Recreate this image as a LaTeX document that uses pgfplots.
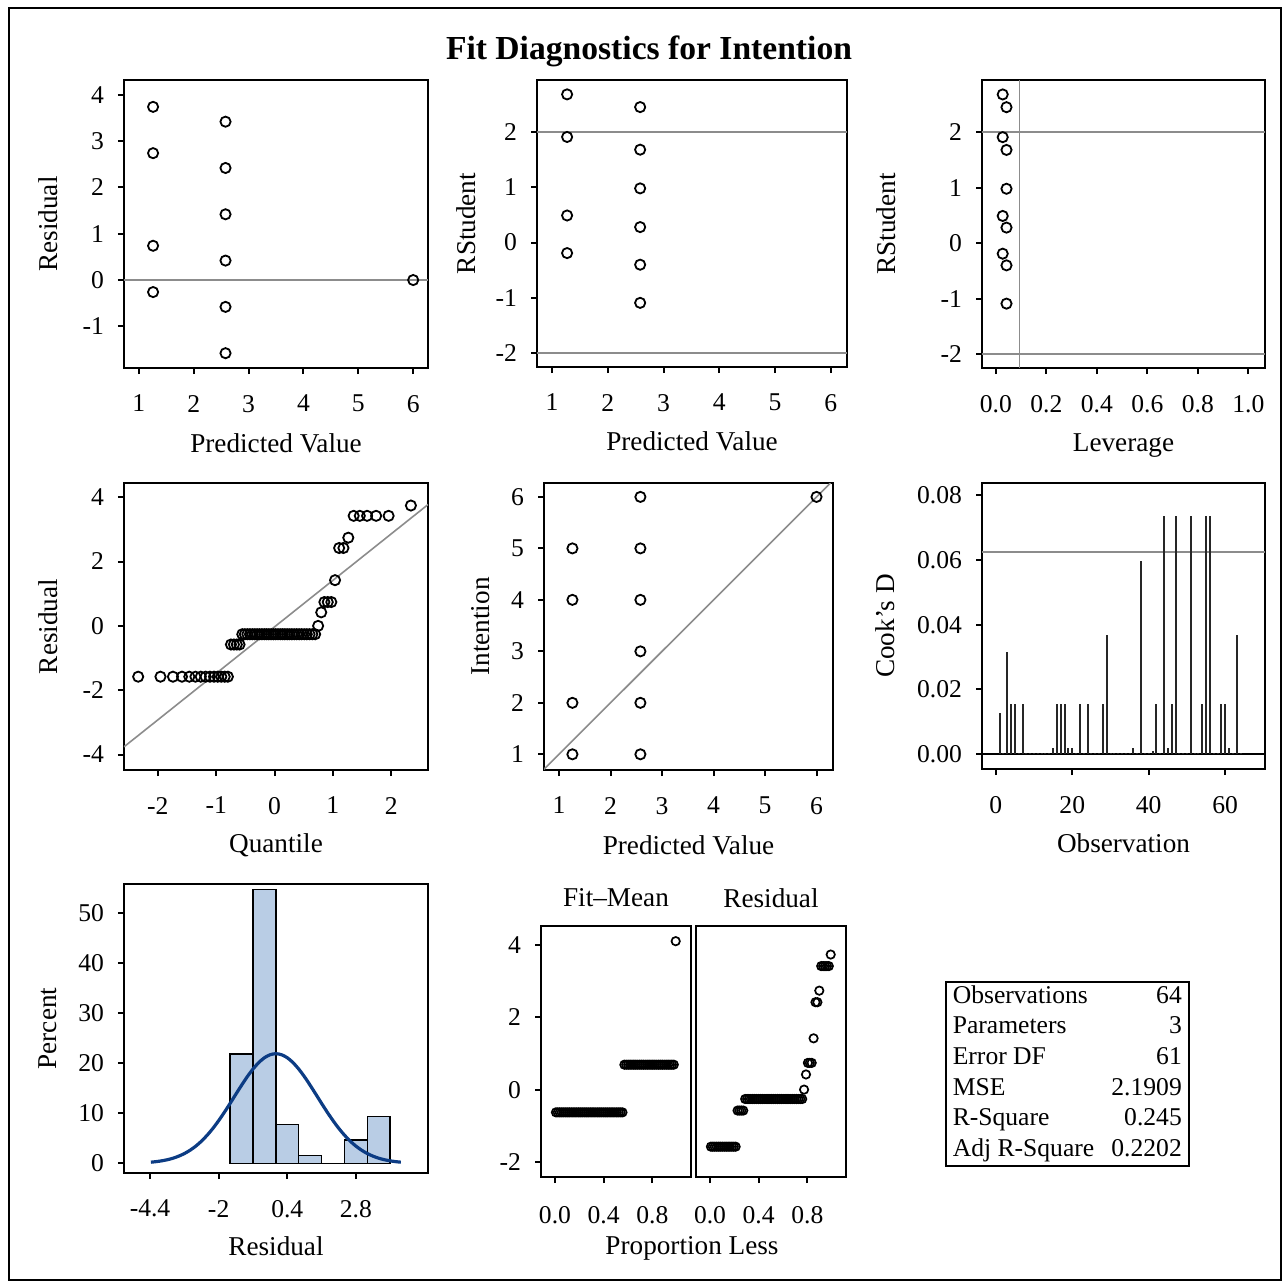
\documentclass[border=0pt]{standalone}
\usepackage{fontspec}
\setmainfont{Liberation Serif}
\usepackage{pgfplots}
\pgfplotsset{compat=1.18}
\definecolor{barfill}{RGB}{185,205,229}
\definecolor{curveblue}{RGB}{12,60,132}
\definecolor{refgray}{RGB}{140,140,140}
\newcommand{\tickfont}{\fontsize{12.8}{15}\selectfont}
\newcommand{\labfont}{\fontsize{13.6}{16}\selectfont}
\pgfplotsset{
  diag/.style={
    scale only axis, anchor=south west,
    axis line style={line width=1pt},
    major tick style={line width=1pt, black},
    major tick length=3pt,
    tick align=outside, tick pos=left,
    tick label style={font=\tickfont},
    xticklabel style={yshift=-7pt},
    yticklabel style={xshift=-3.5pt},
    label style={font=\labfont},
    /pgf/number format/assume math mode=true,
    scaled ticks=false,
  },
  circ/.style={only marks, mark=o, mark size=2.55pt, mark options={line width=0.9pt, black}},
  circs/.style={only marks, mark=o, mark size=2.1pt, mark options={line width=0.85pt, black}},
  ref/.style={refgray, line width=0.8pt, forget plot},
}
\begin{document}
\begin{tikzpicture}
\path (0pt,0pt) rectangle (642.5pt,-642pt);
\draw[line width=1pt] (4.5pt,-4pt) rectangle (640.5pt,-640pt);
\node[font=\bfseries\fontsize{16.8}{20}\selectfont] at (324.5pt,-25.5pt) {Fit Diagnostics for Intention};

% residual vs predicted
\begin{axis}[diag, at={(62pt,-184pt)}, width=152pt, height=144pt,
  xmin=0.73, xmax=6.27, ymin=-1.9, ymax=4.32,
  xtick={1,2,3,4,5,6}, ytick={-1,0,1,2,3,4},
  xlabel={Predicted Value}, ylabel={Residual},
  xlabel style={at={(axis description cs:0.5,-0.26)}, anchor=center},
  ylabel style={at={(axis description cs:-0.25,0.5)}, anchor=center}]
\addplot[ref] coordinates {(0.73,0) (6.27,0)};
\addplot[circ] coordinates {(1.26,3.74)(1.26,2.74)(1.26,0.74)(1.26,-0.26)
 (2.58,3.42)(2.58,2.42)(2.58,1.42)(2.58,0.42)(2.58,-0.58)(2.58,-1.58)(6,0)};
\end{axis}

% rstudent vs predicted
\begin{axis}[diag, at={(268.5pt,-183.5pt)}, width=155pt, height=143.5pt,
  xmin=0.73, xmax=6.29, ymin=-2.25, ymax=2.94,
  xtick={1,2,3,4,5,6}, ytick={-2,-1,0,1,2},
  xlabel={Predicted Value}, ylabel={RStudent},
  xlabel style={at={(axis description cs:0.5,-0.26)}, anchor=center},
  ylabel style={at={(axis description cs:-0.229,0.5)}, anchor=center}]
\addplot[ref] coordinates {(0.73,2) (6.29,2)};
\addplot[ref] coordinates {(0.73,-2) (6.29,-2)};
\addplot[circ] coordinates {(1.27,2.68)(1.27,1.91)(1.27,0.49)(1.27,-0.19)
 (2.58,2.45)(2.58,1.68)(2.58,0.98)(2.58,0.28)(2.58,-0.40)(2.58,-1.09)};
\end{axis}

% rstudent vs leverage
\begin{axis}[diag, at={(491pt,-184pt)}, width=141.5pt, height=144pt,
  xmin=-0.055, xmax=1.066, ymin=-2.25, ymax=2.94,
  xtick={0,0.2,0.4,0.6,0.8,1}, xticklabels={0.0,0.2,0.4,0.6,0.8,1.0},
  ytick={-2,-1,0,1,2},
  xlabel={Leverage}, ylabel={RStudent},
  xlabel style={at={(axis description cs:0.5,-0.26)}, anchor=center, yshift=-1.5pt},
  ylabel style={at={(axis description cs:-0.339,0.5)}, anchor=center}]
\addplot[ref] coordinates {(-0.055,2) (1.066,2)};
\addplot[ref] coordinates {(-0.055,-2) (1.066,-2)};
\addplot[ref] coordinates {(0.09375,-2.25) (0.09375,2.94)};
\addplot[circ] coordinates {(0.027,2.68)(0.027,1.91)(0.027,0.49)(0.027,-0.19)
 (0.042,2.45)(0.042,1.68)(0.042,0.98)(0.042,0.28)(0.042,-0.40)(0.042,-1.09)};
\end{axis}

% QQ plot
\begin{axis}[diag, at={(62pt,-385pt)}, width=152pt, height=143.5pt,
  xmin=-2.58, xmax=2.63, ymin=-4.48, ymax=4.44,
  xtick={-2,-1,0,1,2}, ytick={-4,-2,0,2,4},
  xlabel={Quantile}, ylabel={Residual},
  xlabel style={at={(axis description cs:0.5,-0.261)}, anchor=center},
  ylabel style={at={(axis description cs:-0.25,0.5)}, anchor=center}]
\addplot[ref] coordinates {(-2.58,-3.76) (2.63,3.77)};
\addplot[circ] coordinates {
 (-2.337,-1.58)(-1.955,-1.58)(-1.741,-1.58)(-1.586,-1.58)(-1.461,-1.58)(-1.356,-1.58)(-1.264,-1.58)
 (-1.181,-1.58)(-1.107,-1.58)(-1.037,-1.58)(-0.973,-1.58)(-0.912,-1.58)(-0.854,-1.58)(-0.800,-1.58)
 (-0.747,-0.58)(-0.696,-0.58)(-0.647,-0.58)(-0.600,-0.58)
 (-0.553,-0.26)(-0.509,-0.26)(-0.465,-0.26)(-0.422,-0.26)(-0.380,-0.26)(-0.338,-0.26)(-0.297,-0.26)
 (-0.256,-0.26)(-0.216,-0.26)(-0.176,-0.26)(-0.137,-0.26)(-0.098,-0.26)(-0.059,-0.26)(-0.020,-0.26)
 (0.020,-0.26)(0.059,-0.26)(0.098,-0.26)(0.137,-0.26)(0.176,-0.26)(0.216,-0.26)(0.256,-0.26)
 (0.297,-0.26)(0.338,-0.26)(0.380,-0.26)(0.422,-0.26)(0.465,-0.26)(0.509,-0.26)(0.553,-0.26)
 (0.600,-0.26)(0.647,-0.26)(0.696,-0.26)
 (0.747,0)(0.800,0.42)(0.854,0.74)(0.912,0.74)(0.973,0.74)(1.037,1.42)(1.107,2.42)(1.181,2.42)
 (1.264,2.74)(1.356,3.42)(1.461,3.42)(1.586,3.42)(1.741,3.42)(1.955,3.42)(2.337,3.74)};
\end{axis}

% observed vs predicted
\begin{axis}[diag, at={(272pt,-385pt)}, width=144.5pt, height=143.5pt,
  xmin=0.708, xmax=6.32, ymin=0.695, ymax=6.27,
  xtick={1,2,3,4,5,6}, ytick={1,2,3,4,5,6},
  xlabel={Predicted Value}, ylabel={Intention},
  xlabel style={at={(axis description cs:0.5,-0.261)}, anchor=center},
  ylabel style={at={(axis description cs:-0.218,0.5)}, anchor=center}]
\addplot[ref] coordinates {(0.708,0.708) (6.27,6.27)};
\addplot[circ] coordinates {(1.26,5)(1.26,4)(1.26,2)(1.26,1)
 (2.58,6)(2.58,5)(2.58,4)(2.58,3)(2.58,2)(2.58,1)(6,6)};
\end{axis}

% Cook's D
\begin{axis}[diag, at={(491pt,-384.5pt)}, width=141.5pt, height=143pt,
  xmin=-3.6, xmax=70.4, ymin=-0.0046, ymax=0.0838,
  xtick={0,20,40,60}, ytick={0,0.02,0.04,0.06,0.08},
  yticklabels={0.00,0.02,0.04,0.06,0.08},
  xlabel={Observation}, ylabel={Cook's D},
  xlabel style={at={(axis description cs:0.5,-0.261)}, anchor=center},
  ylabel style={at={(axis description cs:-0.343,0.5)}, anchor=center}]
\addplot[ref] coordinates {(-3.6,0.0625) (70.4,0.0625)};
\addplot[black, line width=1pt, forget plot] coordinates {(-3.6,0) (70.4,0)};
\addplot[ycomb, black!85, line width=1pt, mark=none] coordinates {
 (1,0.0126)(2,0.0003)(3,0.0317)(4,0.0155)(5,0.0155)(6,0.0003)(7,0.0155)(8,0.0003)
 (9,0.0003)(10,0.0003)(11,0.0003)(12,0.0003)(13,0.0003)(14,0.0003)(15,0.0019)(16,0.0155)
 (17,0.0155)(18,0.0155)(19,0.0019)(20,0.0019)(21,0.0003)(22,0.0155)(23,0.0003)(24,0.0155)
 (25,0.0003)(26,0.0003)(27,0.0003)(28,0.0155)(29,0.0367)(30,0.0003)(31,0.0003)(32,0.0003)
 (33,0.0003)(34,0.0003)(35,0.0003)(36,0.0019)(37,0.0003)(38,0.0598)(39,0.0003)(40,0.0003)
 (41,0.0009)(42,0.0155)(43,0.0003)(44,0.0735)(45,0.0019)(46,0.0155)(47,0.0735)(48,0.0003)
 (49,0.0003)(50,0.0003)(51,0.0735)(52,0.0003)(53,0.0003)(54,0.0155)(55,0.0735)(56,0.0735)
 (57,0.0003)(58,0.0003)(59,0.0155)(60,0.0155)(61,0.0019)(62,0.0003)(63,0.0367)(64,0.0003)};
\end{axis}

% histogram of residuals
\begin{axis}[diag, at={(62pt,-586.5pt)}, width=152pt, height=144.5pt,
  xmin=-5.31, xmax=5.32, ymin=-1.92, ymax=55.8,
  xtick={-4.4,-2,0.4,2.8}, ytick={0,10,20,30,40,50},
  xlabel={Residual}, ylabel={Percent},
  xlabel style={at={(axis description cs:0.5,-0.253)}, anchor=center},
  ylabel style={at={(axis description cs:-0.25,0.5)}, anchor=center}]
\addplot[ybar, bar width=0.8, bar shift=0pt, fill=barfill, draw=black, line width=0.75pt]
 coordinates {(-1.2,21.875)(-0.4,54.6875)(0.4,7.8125)(1.2,1.5625)(2.0,0)(2.8,4.6875)(3.6,9.375)};
\addplot[curveblue, line width=1.6pt, smooth, mark=none] coordinates {
 (-4.37,0.243)(-4.2,0.343)(-4.0,0.504)(-3.8,0.73)(-3.6,1.03)(-3.4,1.44)(-3.2,1.96)(-3.0,2.63)
 (-2.8,3.45)(-2.6,4.45)(-2.4,5.64)(-2.2,7.00)(-2.0,8.54)(-1.8,10.21)(-1.6,11.98)(-1.4,13.80)
 (-1.2,15.60)(-1.0,17.31)(-0.8,18.84)(-0.6,20.13)(-0.4,21.10)(-0.2,21.70)(0,21.91)
 (0.2,21.70)(0.4,21.10)(0.6,20.13)(0.8,18.84)(1.0,17.31)(1.2,15.60)(1.4,13.80)(1.6,11.98)
 (1.8,10.21)(2.0,8.54)(2.2,7.00)(2.4,5.64)(2.6,4.45)(2.8,3.45)(3.0,2.63)(3.2,1.96)(3.4,1.44)
 (3.6,1.03)(3.8,0.73)(4.0,0.504)(4.2,0.343)(4.37,0.243)};
\end{axis}

% residual-fit spread: Fit-Mean
\begin{axis}[diag, at={(270.5pt,-588.5pt)}, width=75pt, height=125.5pt,
  xmin=-0.115, xmax=1.118, ymin=-2.42, ymax=4.53,
  xtick={0,0.4,0.8}, xticklabels={0.0,0.4,0.8}, ytick={-2,0,2,4},
  xticklabel style={yshift=-1pt},
  title={Fit--Mean}, title style={font=\labfont, at={(axis description cs:0.5,1)}, anchor=center, yshift=8pt}]
\addplot[circs] coordinates {
 (0.0078,-0.63)(0.0234,-0.63)(0.0391,-0.63)(0.0547,-0.63)(0.0703,-0.63)(0.0859,-0.63)(0.1016,-0.63)
 (0.1172,-0.63)(0.1328,-0.63)(0.1484,-0.63)(0.1641,-0.63)(0.1797,-0.63)(0.1953,-0.63)(0.2109,-0.63)
 (0.2266,-0.63)(0.2422,-0.63)(0.2578,-0.63)(0.2734,-0.63)(0.2891,-0.63)(0.3047,-0.63)(0.3203,-0.63)
 (0.3359,-0.63)(0.3516,-0.63)(0.3672,-0.63)(0.3828,-0.63)(0.3984,-0.63)(0.4141,-0.63)(0.4297,-0.63)
 (0.4453,-0.63)(0.4609,-0.63)(0.4766,-0.63)(0.4922,-0.63)(0.5078,-0.63)(0.5234,-0.63)(0.5391,-0.63)
 (0.5547,-0.63)
 (0.5703,0.69)(0.5859,0.69)(0.6016,0.69)(0.6172,0.69)(0.6328,0.69)(0.6484,0.69)(0.6641,0.69)
 (0.6797,0.69)(0.6953,0.69)(0.7109,0.69)(0.7266,0.69)(0.7422,0.69)(0.7578,0.69)(0.7734,0.69)
 (0.7891,0.69)(0.8047,0.69)(0.8203,0.69)(0.8359,0.69)(0.8516,0.69)(0.8672,0.69)(0.8828,0.69)
 (0.8984,0.69)(0.9141,0.69)(0.9297,0.69)(0.9453,0.69)(0.9609,0.69)(0.9766,0.69)
 (0.9922,4.11)};
\end{axis}

% residual-fit spread: Residual
\begin{axis}[diag, at={(348pt,-588.5pt)}, width=75pt, height=125.5pt,
  xmin=-0.115, xmax=1.118, ymin=-2.42, ymax=4.53,
  xtick={0,0.4,0.8}, xticklabels={0.0,0.4,0.8}, ytick=\empty,
  xticklabel style={yshift=-1pt},
  title={Residual}, title style={font=\labfont, at={(axis description cs:0.5,1)}, anchor=center, yshift=8pt}]
\addplot[circs] coordinates {
 (0.0078,-1.58)(0.0234,-1.58)(0.0391,-1.58)(0.0547,-1.58)(0.0703,-1.58)(0.0859,-1.58)(0.1016,-1.58)
 (0.1172,-1.58)(0.1328,-1.58)(0.1484,-1.58)(0.1641,-1.58)(0.1797,-1.58)(0.1953,-1.58)(0.2109,-1.58)
 (0.2266,-0.58)(0.2422,-0.58)(0.2578,-0.58)(0.2734,-0.58)
 (0.2891,-0.26)(0.3047,-0.26)(0.3203,-0.26)(0.3359,-0.26)(0.3516,-0.26)(0.3672,-0.26)(0.3828,-0.26)
 (0.3984,-0.26)(0.4141,-0.26)(0.4297,-0.26)(0.4453,-0.26)(0.4609,-0.26)(0.4766,-0.26)(0.4922,-0.26)
 (0.5078,-0.26)(0.5234,-0.26)(0.5391,-0.26)(0.5547,-0.26)(0.5703,-0.26)(0.5859,-0.26)(0.6016,-0.26)
 (0.6172,-0.26)(0.6328,-0.26)(0.6484,-0.26)(0.6641,-0.26)(0.6797,-0.26)(0.6953,-0.26)(0.7109,-0.26)
 (0.7266,-0.26)(0.7422,-0.26)(0.7578,-0.26)
 (0.7734,0)(0.7891,0.42)(0.8047,0.74)(0.8203,0.74)(0.8359,0.74)(0.8516,1.42)(0.8672,2.42)
 (0.8828,2.42)(0.8984,2.74)(0.9141,3.42)(0.9297,3.42)(0.9453,3.42)(0.9609,3.42)(0.9766,3.42)
 (0.9922,3.74)};
\end{axis}
\node[font=\labfont] at (346pt,-624pt) {Proportion Less};

% fit statistics
\node[draw, line width=0.8pt, inner sep=0pt, anchor=north west] at (472.5pt,-490.5pt) {%
 \fontsize{12.8}{15.33}\selectfont
 \begin{tabular*}{121.5pt}{@{\hspace{3.5pt}}l@{\extracolsep{\fill}}r@{\hspace{3.5pt}}}
 Observations & 64\\
 Parameters & 3\\
 Error DF & 61\\
 MSE & 2.1909\\
 R-Square & 0.245\\
 Adj R-Square & 0.2202
 \end{tabular*}};
\end{tikzpicture}
\end{document}
